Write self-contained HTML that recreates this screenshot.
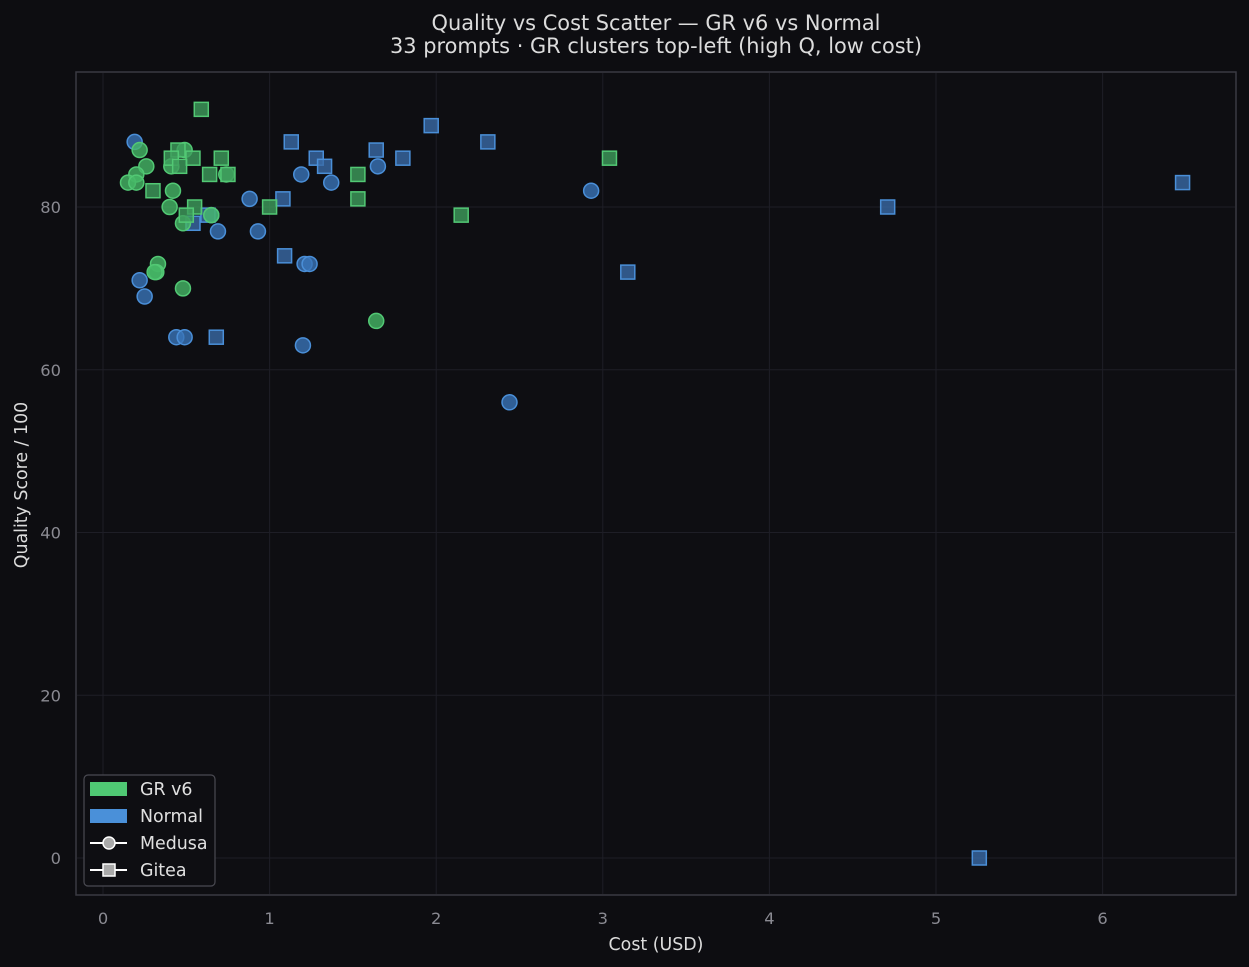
<!DOCTYPE html>
<html><head><meta charset="utf-8"><style>
html,body{margin:0;padding:0;background:#0d0d11;}
svg{display:block;font-family:"DejaVu Sans","Liberation Sans",sans-serif;}
</style></head><body>
<svg id="chart" width="1249" height="967" viewBox="0 0 1249 967" xmlns="http://www.w3.org/2000/svg">
<rect x="0" y="0" width="1249" height="967" fill="#0d0d11"/>
<text x="656" y="30" fill="#dcdcdc" font-size="20.9" text-anchor="middle">Quality vs Cost Scatter — GR v6 vs Normal</text>
<text x="656" y="53" fill="#dcdcdc" font-size="20.9" text-anchor="middle">33 prompts · GR clusters top-left (high Q, low cost)</text>
<rect x="76" y="72" width="1160" height="823" fill="#0e0e12" stroke="#3a3a42" stroke-width="1.5"/>
<g id="grid"></g><g id="ticks"></g><g id="marks"></g>
<text x="656" y="950" fill="#dcdcdc" font-size="17.4" text-anchor="middle">Cost (USD)</text>
<text transform="translate(27,485) rotate(-90)" fill="#dcdcdc" font-size="17.4" text-anchor="middle">Quality Score / 100</text>
<g>
<rect x="84" y="775" width="131" height="111" rx="4" fill="#0e0e12" stroke="#4a4a52" stroke-width="1.2"/>
<rect x="90" y="782" width="37" height="14" fill="#4fc873"/>
<text x="140" y="795" fill="#e0e0e0" font-size="17.4">GR v6</text>
<rect x="90" y="809" width="37" height="14" fill="#4a90d9"/>
<text x="140" y="822" fill="#e0e0e0" font-size="17.4">Normal</text>
<line x1="90" y1="843" x2="127" y2="843" stroke="#fff" stroke-width="2"/>
<circle cx="109" cy="843" r="6" fill="#aaa" stroke="#fff" stroke-width="1.5"/>
<text x="140" y="849" fill="#e0e0e0" font-size="17.4">Medusa</text>
<line x1="90" y1="870" x2="127" y2="870" stroke="#fff" stroke-width="2"/>
<rect x="103" y="864" width="12" height="12" fill="#aaa" stroke="#fff" stroke-width="1.5"/>
<text x="140" y="876" fill="#e0e0e0" font-size="17.4">Gitea</text>
</g>
</svg>
<script>
const xTicks=[0,1,2,3,4,5,6];
const yTicks=[0,20,40,60,80];
const grMedusaCost=[0.22,0.26,0.20,0.15,0.20,0.42,0.40,0.48,0.33,0.32,0.31,0.48,1.64,0.49,0.41,0.74,0.65];
const grMedusaQ=[87,85,84,83,83,82,80,78,73,72,72,70,66,87,85,84,79];
const grGiteaCost=[0.59,0.45,0.41,0.54,0.71,0.46,0.64,0.75,0.30,0.55,0.50,1.00,1.53,1.53,2.15,3.04];
const grGiteaQ=[92,87,86,86,86,85,84,84,82,80,79,80,84,81,79,86];
const nMedusaCost=[0.19,0.22,0.25,0.44,0.49,0.65,0.69,0.88,0.93,1.19,1.21,1.24,1.20,1.37,1.65,2.44,2.93];
const nMedusaQ=[88,71,69,64,64,79,77,81,77,84,73,73,63,83,85,56,82];
const nGiteaCost=[0.54,0.63,0.68,1.08,1.09,1.13,1.28,1.33,1.64,1.80,1.97,2.31,3.15,4.71,5.26,6.48];
const nGiteaQ=[78,79,64,81,74,88,86,85,87,86,90,88,72,80,0,83];

const NS='http://www.w3.org/2000/svg';
function X(v){return 103+v*166.6;}
function Y(v){return 858-v*8.1375;}
function mk(t,a){const e=document.createElementNS(NS,t);for(const k in a)e.setAttribute(k,a[k]);return e;}
const grid=document.getElementById('grid'),ticks=document.getElementById('ticks'),marks=document.getElementById('marks');
xTicks.forEach(v=>{
  const l=mk('line',{x1:X(v),x2:X(v),y1:73,y2:894,stroke:'#1e1e26','stroke-width':1});
  
  
  grid.appendChild(l);
  const t=mk('text',{x:X(v),y:924,fill:'#8a8a92','font-size':16.3,'text-anchor':'middle'});
  
  
  t.textContent=v;ticks.appendChild(t);
});
yTicks.forEach(v=>{
  const l=mk('line',{x1:77,x2:1235,y1:Y(v),y2:Y(v),stroke:'#1e1e26','stroke-width':1});
  
  
  grid.appendChild(l);
  const t=mk('text',{x:61,y:Y(v)+6,fill:'#8a8a92','font-size':16.3,'text-anchor':'end'});
  
  
  t.textContent=v;ticks.appendChild(t);
});
function circles(xs,ys,fill,stroke,name){
  xs.forEach((c,i)=>{
    const e=mk('circle',{cx:X(c),cy:Y(ys[i]),r:7.5,fill:fill,'fill-opacity':0.8,stroke:stroke,'stroke-width':1.5});
    
    
    marks.appendChild(e);
  });
}
function squares(xs,ys,fill,stroke,name){
  xs.forEach((c,i)=>{
    const e=mk('rect',{x:X(c)-7,y:Y(ys[i])-7,width:14,height:14,fill:fill,'fill-opacity':0.8,stroke:stroke,'stroke-width':1.5});
    
    
    marks.appendChild(e);
  });
}
circles(nMedusaCost,nMedusaQ,'#3a74b8','#4a8fd8','normal-medusa-point');
squares(nGiteaCost,nGiteaQ,'#3a6aa6','#4a8fd8','normal-gitea-point');
circles(grMedusaCost,grMedusaQ,'#46b866','#52c874','gr-medusa-point');
squares(grGiteaCost,grGiteaQ,'#3f9e5c','#52c874','gr-gitea-point');
</script>
</body></html>
